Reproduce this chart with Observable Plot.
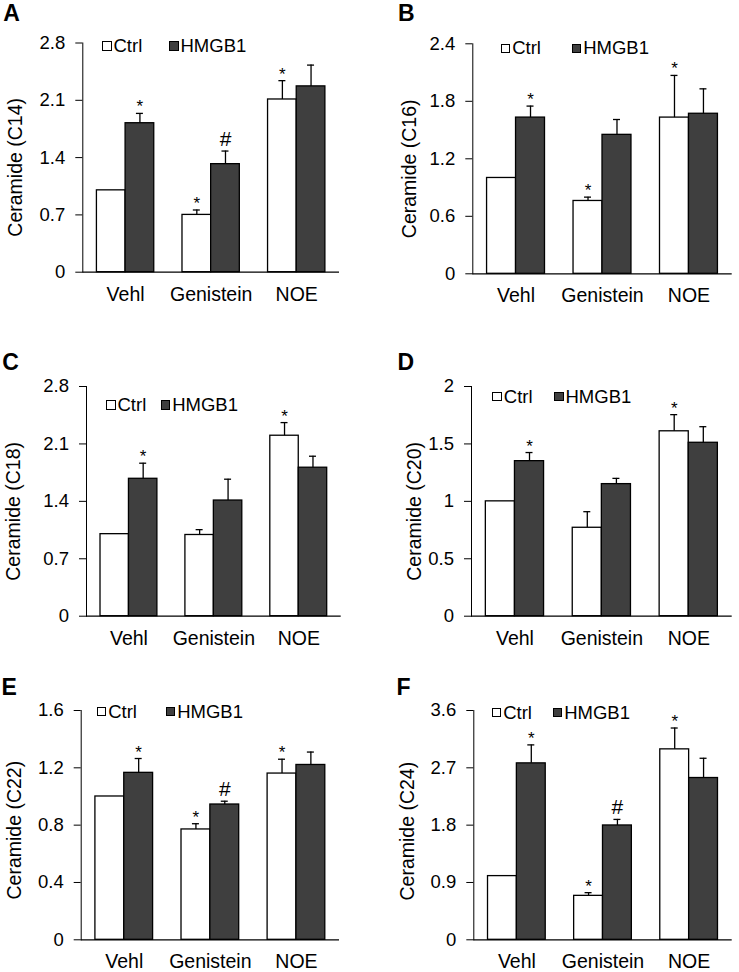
<!DOCTYPE html>
<html><head><meta charset="utf-8">
<script src="https://cdn.jsdelivr.net/npm/d3@7"></script>
<script src="https://cdn.jsdelivr.net/npm/@observablehq/plot@0.6"></script>
<style>
body{margin:0;background:#fff;font-family:Arial,"Liberation Sans",sans-serif;}
#root{position:relative;width:739px;height:972px;overflow:hidden;background:#fff;}
.panel{position:absolute;}
.letter{position:absolute;font-weight:bold;font-size:23px;line-height:23px;color:#000;}
.leg{position:absolute;font-size:18.5px;line-height:20px;height:20px;display:flex;align-items:center;white-space:nowrap;color:#000;}
.box{display:inline-block;width:9.5px;height:9.5px;border:1.2px solid #000;box-sizing:border-box;margin-right:2px;}
</style></head><body><div id="root"></div>
<script>
// ---- shared categories ----
const groups = ["Vehl", "Genistein", "NOE"];
const seriesNames = ["Ctrl", "HMGB1"];
const panelLetters = ["A", "B", "C", "D", "E", "F"];
const yLabels = ["Ceramide (C14)", "Ceramide (C16)", "Ceramide (C18)", "Ceramide (C20)", "Ceramide (C22)", "Ceramide (C24)"];

// ---- Panel A: C14 ----
const aCtrl = [1.00, 0.70, 2.11];
const aCtrlErr = [0, 0.06, 0.23];
const aHmgb = [1.82, 1.32, 2.27];
const aHmgbErr = [0.12, 0.16, 0.26];
const aCtrlMark = ["", "*", "*"];
const aHmgbMark = ["*", "#", ""];
const aTicks = [0, 0.7, 1.4, 2.1, 2.8];

// ---- Panel B: C16 ----
const bCtrl = [1.00, 0.76, 1.63];
const bCtrlErr = [0, 0.04, 0.44];
const bHmgb = [1.63, 1.45, 1.67];
const bHmgbErr = [0.12, 0.16, 0.26];
const bCtrlMark = ["", "*", "*"];
const bHmgbMark = ["*", "", ""];
const bTicks = [0, 0.6, 1.2, 1.8, 2.4];

// ---- Panel C: C18 ----
const cCtrl = [1.00, 0.99, 2.20];
const cCtrlErr = [0, 0.065, 0.16];
const cHmgb = [1.675, 1.41, 1.81];
const cHmgbErr = [0.19, 0.26, 0.14];
const cCtrlMark = ["", "", "*"];
const cHmgbMark = ["*", "", ""];
const cTicks = [0, 0.7, 1.4, 2.1, 2.8];

// ---- Panel D: C20 ----
const dCtrl = [1.00, 0.77, 1.61];
const dCtrlErr = [0, 0.14, 0.145];
const dHmgb = [1.35, 1.15, 1.51];
const dHmgbErr = [0.075, 0.05, 0.14];
const dCtrlMark = ["", "", "*"];
const dHmgbMark = ["*", "", ""];
const dTicks = [0, 0.5, 1, 1.5, 2];

// ---- Panel E: C22 ----
const eCtrl = [1.00, 0.77, 1.16];
const eCtrlErr = [0, 0.04, 0.10];
const eHmgb = [1.165, 0.944, 1.22];
const eHmgbErr = [0.10, 0.023, 0.09];
const eCtrlMark = ["", "*", "*"];
const eHmgbMark = ["*", "#", ""];
const eTicks = [0, 0.4, 0.8, 1.2, 1.6];

// ---- Panel F: C24 ----
const fCtrl = [1.00, 0.69, 2.99];
const fCtrlErr = [0, 0.05, 0.335];
const fHmgb = [2.77, 1.795, 2.54];
const fHmgbErr = [0.29, 0.095, 0.31];
const fCtrlMark = ["", "*", "*"];
const fHmgbMark = ["*", "#", ""];
const fTicks = [0, 0.9, 1.8, 2.7, 3.6];

// ---- layout (pixel geometry of each panel) ----
const layouts = [
  {left: 0,   top: 0,   w: 369, h: 320, axisX: 82.3,  topY: 42.5, zeroY: 271.7, rightX: 339,   letterX: 3.3,   letterB: 21.2, legC: 102,  legH: 169,  legY: 46,   labDx: -60.4, labDy: 9.7, xLabDy: 28.3},
  {left: 370, top: 0,   w: 369, h: 320, axisX: 472.3, topY: 43.3, zeroY: 273.3, rightX: 731.7, letterX: 398,   letterB: 21.2, legC: 500.7, legH: 571.7, legY: 48.3, labDx: -56.6, labDy: 10, xLabDy: 28.3},
  {left: 0,   top: 320, w: 369, h: 320, axisX: 86,    topY: 386,  zeroY: 615.7, rightX: 340.7, letterX: 2.3,   letterB: 370,  legC: 106,  legH: 160.7, legY: 405,  labDx: -67,   labDy: 10, xLabDy: 28.3},
  {left: 370, top: 320, w: 369, h: 320, axisX: 471,   topY: 386,  zeroY: 615.7, rightX: 731.7, letterX: 397.5, letterB: 370,  legC: 492.3, legH: 554,  legY: 396.7, labDx: -51,  labDy: 10, xLabDy: 28.3},
  {left: 0,   top: 640, w: 369, h: 332, axisX: 80.7,  topY: 710,  zeroY: 939.3, rightX: 339,   letterX: 1.5,   letterB: 695,  legC: 96.7, legH: 165.7, legY: 711.7, labDx: -60,  labDy: 5, xLabDy: 28.3},
  {left: 370, top: 640, w: 369, h: 332, axisX: 473.3, topY: 710,  zeroY: 939.3, rightX: 731.7, letterX: 396.5, letterB: 695,  legC: 491.7, legH: 552.7, legY: 712.7, labDx: -60,  labDy: 6, xLabDy: 28.3}
];

const panelsData = [
  [aCtrl, aCtrlErr, aHmgb, aHmgbErr, aCtrlMark, aHmgbMark, aTicks],
  [bCtrl, bCtrlErr, bHmgb, bHmgbErr, bCtrlMark, bHmgbMark, bTicks],
  [cCtrl, cCtrlErr, cHmgb, cHmgbErr, cCtrlMark, cHmgbMark, cTicks],
  [dCtrl, dCtrlErr, dHmgb, dHmgbErr, dCtrlMark, dHmgbMark, dTicks],
  [eCtrl, eCtrlErr, eHmgb, eHmgbErr, eCtrlMark, eHmgbMark, eTicks],
  [fCtrl, fCtrlErr, fHmgb, fHmgbErr, fCtrlMark, fHmgbMark, fTicks]
];

const root = document.getElementById("root");
const FONT = "Arial, 'Liberation Sans', sans-serif";
const PAD_IN = 0.33;
const DARK = "#3f3f3f";

panelsData.forEach((pd, p) => {
  const [ctrl, ctrlErr, hmgb, hmgbErr, ctrlMark, hmgbMark, ticks] = pd;
  const L = layouts[p];
  const rows = [];
  groups.forEach((g, i) => {
    rows.push({group: g, series: seriesNames[0], v: ctrl[i], e: ctrlErr[i], mark: ctrlMark[i], side: -1});
    rows.push({group: g, series: seriesNames[1], v: hmgb[i], e: hmgbErr[i], mark: hmgbMark[i], side: 1});
  });
  const ctrlRows = rows.filter(d => d.side < 0);
  const hmgbRows = rows.filter(d => d.side > 0);
  const step = (L.rightX - L.axisX) / groups.length;
  const bw = step * (1 - PAD_IN);
  const half = bw / 2;
  const capInset = (bw - 7) / 2;

  const errMarks = (data, side) => [
    Plot.ruleX(data.filter(d => d.e > 0), {x: "group", y1: "v", y2: d => d.v + d.e, dx: side * bw / 4, stroke: "#000", strokeWidth: 1.3}),
    Plot.tickY(data.filter(d => d.e > 0), {x: "group", y: d => d.v + d.e, dx: side * bw / 4, insetLeft: capInset, insetRight: capInset, stroke: "#000", strokeWidth: 1.3}),
    Plot.text(data.filter(d => d.mark === "*"), {x: "group", y: d => d.v + d.e, text: "mark", dx: side * bw / 4, dy: -1, lineAnchor: "bottom", fontSize: 17, fill: "#000"}),
    Plot.text(data.filter(d => d.mark === "#"), {x: "group", y: d => d.v + d.e, text: "mark", dx: side * bw / 4, dy: -5, lineAnchor: "bottom", fontSize: 21, fill: "#000"})
  ];

  const chart = Plot.plot({
    width: L.w,
    height: L.h,
    marginLeft: L.axisX - L.left,
    marginRight: L.left + L.w - L.rightX,
    marginTop: L.topY - L.top,
    marginBottom: L.top + L.h - L.zeroY,
    style: {fontFamily: FONT, fontSize: "18px", background: "transparent", color: "#000", overflow: "visible"},
    x: {type: "band", domain: groups, paddingInner: PAD_IN, paddingOuter: PAD_IN / 2, round: false, axis: null},
    y: {domain: [0, ticks[ticks.length - 1]], ticks: ticks, tickSize: 7, tickPadding: 3, tickFormat: () => "", line: true, label: null, grid: false},
    marks: [
      Plot.barY(ctrlRows, {x: "group", y: "v", insetRight: half, fill: "#fff", stroke: "#000", strokeWidth: 1.3}),
      Plot.barY(hmgbRows, {x: "group", y: "v", insetLeft: half, fill: DARK, stroke: "#000", strokeWidth: 1.3}),
      ...errMarks(ctrlRows, -1),
      ...errMarks(hmgbRows, 1),
      Plot.ruleY([0], {stroke: "#000", strokeWidth: 1.2}),
      // y tick labels
      Plot.text(ticks, {y: d => d, text: d => String(d), frameAnchor: "left", textAnchor: "end", dx: -17.5, fontSize: 18.5, fill: "#000"}),
      // x category labels
      Plot.text(groups, {x: d => d, text: d => d, frameAnchor: "bottom", lineAnchor: "bottom", dy: L.xLabDy, fontSize: 19.5, fill: "#000"}),
      // y axis title
      Plot.text([yLabels[p]], {text: d => d, frameAnchor: "left", rotate: -90, textAnchor: "middle", lineAnchor: "bottom", dx: L.labDx, dy: L.labDy, fontSize: 19.5, fill: "#000"})
    ]
  });
  const wrap = document.createElement("div");
  wrap.className = "panel";
  wrap.style.left = L.left + "px";
  wrap.style.top = L.top + "px";
  wrap.appendChild(chart);
  root.appendChild(wrap);

  const letter = document.createElement("div");
  letter.className = "letter";
  letter.textContent = panelLetters[p];
  letter.style.left = L.letterX + "px";
  letter.style.top = (L.letterB - 19.5) + "px";
  root.appendChild(letter);

  [[L.legC, seriesNames[0], "#fff"], [L.legH, seriesNames[1], DARK]].forEach(([x, name, fill]) => {
    const item = document.createElement("div");
    item.className = "leg";
    item.style.left = x + "px";
    item.style.top = (L.legY - 10) + "px";
    const box = document.createElement("span");
    box.className = "box";
    box.style.background = fill;
    item.appendChild(box);
    item.appendChild(document.createTextNode(name));
    root.appendChild(item);
  });
});
</script>
</body></html>
